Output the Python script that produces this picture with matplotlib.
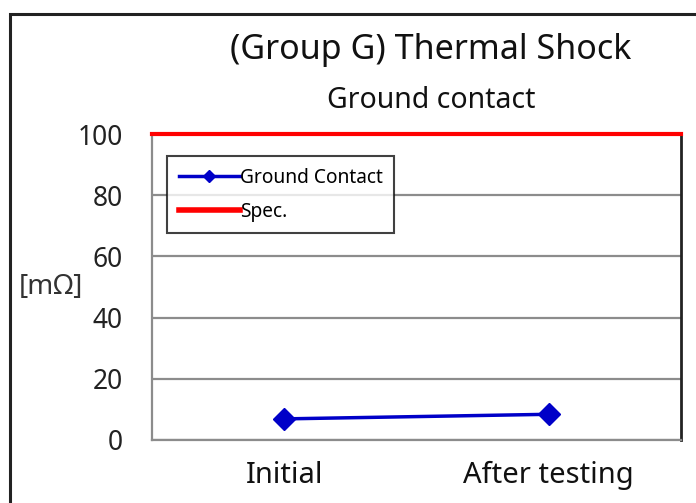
import matplotlib.pyplot as plt
from matplotlib.patches import Rectangle

categories = ["Initial", "After testing"]
ground_contact = [6.9, 8.4]
spec_limit = 100

plt.rcParams['font.family'] = ['Noto Sans', 'DejaVu Sans']

fig = plt.figure(figsize=(6.96, 5.03), dpi=100)
W, H = 696, 503

# outer chart frame (runs off the right/bottom edge)
fig.patches.append(Rectangle((10 / W, -0.05), 1.0, (503 - 14) / H + 0.05,
                             transform=fig.transFigure, fill=False,
                             edgecolor='#222222', linewidth=2.2))

ax = fig.add_axes([152 / W, (H - 440) / H, (681 - 152) / W, (440 - 134) / H])

x = list(range(len(categories)))
ax.plot(x, ground_contact, color='#0000c8', linewidth=2.5, marker='D',
        markersize=11, label='Ground Contact', zorder=3)
ax.axhline(spec_limit, color='#ff0000', linewidth=3, label='Spec.', zorder=3,
           clip_on=False)

ax.set_xlim(-0.5, len(categories) - 0.5)
ax.set_ylim(0, 100)
ax.set_yticks(range(0, 101, 20))
ax.set_xticks(x)
ax.set_xticklabels(categories, fontsize=21)
ax.tick_params(axis='y', length=0, pad=21, labelsize=19, labelcolor='#222222')
ax.tick_params(axis='x', length=0, pad=15, labelcolor='#111111')
ax.yaxis.grid(True, color='#8c8c8c', linewidth=1.6)
ax.set_axisbelow(True)

for side in ['left', 'bottom']:
    ax.spines[side].set_color('#8c8c8c')
    ax.spines[side].set_linewidth(1.6)
ax.spines['top'].set_visible(False)
ax.spines['right'].set_color('#222222')
ax.spines['right'].set_linewidth(2)

leg = ax.legend(loc='upper left', bbox_to_anchor=(15 / 529, 1 - 22 / 306),
                fontsize=13.8, frameon=True, fancybox=False, handlelength=3.2,
                handletextpad=0.0, borderpad=0.6, labelspacing=0.75,
                borderaxespad=0, markerscale=0.6)
leg.get_frame().set_edgecolor('#111111')
leg.get_frame().set_linewidth(1.5)
leg.get_lines()[1].set_linewidth(4)

fig.text(431 / W, 1 - 50 / H, "(Group G) Thermal Shock", fontsize=24.5,
         ha='center', va='center', color='#111111')
fig.text(431 / W, 1 - 100 / H, "Ground contact", fontsize=20.5,
         ha='center', va='center', color='#111111')
fig.text(51 / W, 1 - 287 / H, "[m\u03a9]", fontsize=20,
         ha='center', va='center', color='#333333')

fig.savefig("out.png", dpi=100)
